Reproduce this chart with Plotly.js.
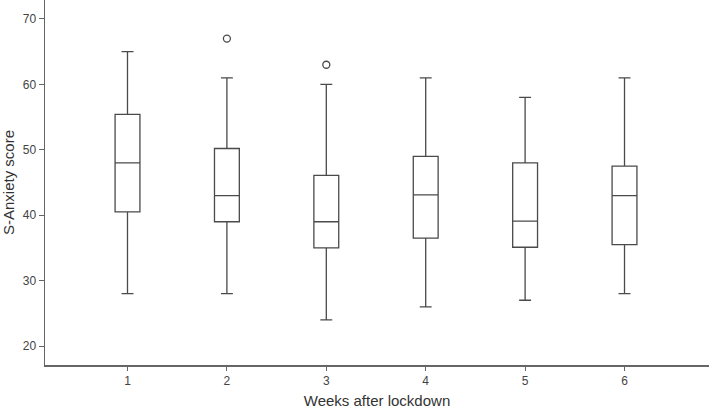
<!DOCTYPE html>
<html>
<head>
<meta charset="utf-8">
<script src="https://cdn.plot.ly/plotly-3.0.1.min.js"></script>
<style>html,body{margin:0;padding:0;background:#fff}#chart{width:709px;height:411px}</style>
</head>
<body>
<div id="chart"></div>
<script>
const weeks = [1, 2, 3, 4, 5, 6];
const lowerWhisker = [28, 28, 24, 26, 27, 28];
const q1 = [40.5, 39, 35, 36.5, 35.1, 35.5];
const median = [48, 43, 39, 43.1, 39.1, 43];
const q3 = [55.4, 50.2, 46.1, 49, 48, 47.5];
const upperWhisker = [65, 61, 60, 61, 58, 61];
const outlierWeeks = [2, 3];
const outlierValues = [67, 63];

const lineColor = '#4a4a4a';
const traces = [
  {
    type: 'box',
    x: weeks,
    q1: q1,
    median: median,
    q3: q3,
    lowerfence: lowerWhisker,
    upperfence: upperWhisker,
    width: 0.25,
    whiskerwidth: 0.48,
    fillcolor: '#ffffff',
    line: {color: lineColor, width: 1.3},
    boxpoints: false,
    hoverinfo: 'skip',
    showlegend: false
  },
  {
    type: 'scatter',
    mode: 'markers',
    x: outlierWeeks,
    y: outlierValues,
    marker: {symbol: 'circle-open', size: 7, color: lineColor, line: {width: 1.3, color: lineColor}},
    hoverinfo: 'skip',
    showlegend: false
  }
];

const layout = {
  width: 709, height: 411,
  margin: {l: 45, r: 0, t: 0, b: 46},
  paper_bgcolor: '#ffffff', plot_bgcolor: '#ffffff',
  font: {family: 'Liberation Sans, Arial, sans-serif', color: '#444'},
  showlegend: false,
  xaxis: {
    range: [0.17, 6.85],
    tickvals: weeks,
    ticktext: weeks.map(String),
    showgrid: false, zeroline: false,
    showline: true, linecolor: '#666', linewidth: 1.5,
    ticks: 'outside', ticklen: 4, tickcolor: '#666', tickwidth: 1,
    tickfont: {size: 12, color: '#444'},
    title: {text: 'Weeks after lockdown', font: {size: 15, color: '#333'}, standoff: 8}
  },
  yaxis: {
    range: [17.1, 72.9],
    tickvals: [20, 30, 40, 50, 60, 70],
    showgrid: false, zeroline: false,
    showline: true, linecolor: '#666', linewidth: 1.5,
    ticks: 'outside', ticklen: 5, tickcolor: '#666', tickwidth: 1,
    tickfont: {size: 12, color: '#444'},
    title: {text: 'S-Anxiety score', font: {size: 15, color: '#333'}, standoff: 6}
  }
};

Plotly.newPlot('chart', traces, layout, {staticPlot: true, displayModeBar: false});
</script>
</body>
</html>
